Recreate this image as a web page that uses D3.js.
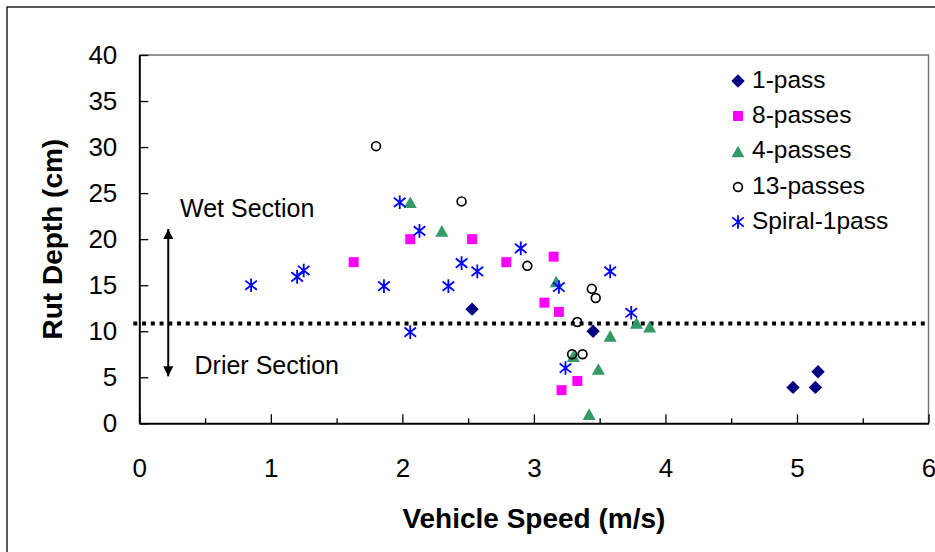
<!DOCTYPE html>
<html>
<head>
<meta charset="utf-8">
<script src="https://cdn.jsdelivr.net/npm/d3@7"></script>
<style>
  body { margin: 0; background: #fff; }
  svg { display: block; }
  text { font-family: "Liberation Sans", Arial, sans-serif; fill: #000; }
</style>
</head>
<body>
<svg id="chart" width="935" height="552"></svg>
<script>
// Rut depth (cm) against vehicle speed (m/s), one array per pass count
const onePass   = [[2.53, 12.4], [3.45, 10.0], [4.97, 3.9], [5.14, 3.9], [5.16, 5.6]];
const eightPass = [[1.63, 17.5], [2.06, 20.0], [2.53, 20.0], [2.79, 17.5], [3.15, 18.1],
                   [3.08, 13.1], [3.19, 12.1], [3.33, 4.6], [3.21, 3.6]];
const fourPass  = [[2.06, 24.0], [2.30, 20.9], [3.17, 15.4], [3.30, 7.3], [3.49, 5.9],
                   [3.42, 1.0], [3.58, 9.5], [3.78, 10.9], [3.88, 10.5]];
const thirteenPass = [[1.80, 30.1], [2.45, 24.1], [2.95, 17.1], [3.44, 14.6], [3.47, 13.6],
                      [3.33, 11.0], [3.29, 7.5], [3.37, 7.5]];
const spiralPass = [[0.85, 15.0], [1.20, 15.9], [1.25, 16.6], [1.86, 14.9], [1.98, 24.0],
                    [2.13, 20.9], [2.06, 9.9], [2.35, 14.9], [2.45, 17.4], [2.57, 16.5],
                    [2.90, 19.0], [3.19, 14.8], [3.58, 16.5], [3.74, 12.0], [3.24, 6.0]];

const seriesNames  = ["1-pass", "8-passes", "4-passes", "13-passes", "Spiral-1pass"];
const seriesColors = ["#000080", "#FF00FF", "#339966", "#000000", "#0000FF"];
const seriesShapes = ["diamond", "square", "triangle", "circle", "asterisk"];
const seriesData   = [onePass, eightPass, fourPass, thirteenPass, spiralPass];

const xTicks = [0, 1, 2, 3, 4, 5, 6];
const xMinorTicks = [0.5, 1.5, 2.5, 3.5, 4.5, 5.5];
const yTicks = [0, 5, 10, 15, 20, 25, 30, 35, 40];

// Boundary between the wet and drier sections
const sectionBoundary = 10.85;
const arrowSpan = { x: 0.22, y0: 5.1, y1: 21.1 };
const sectionLabels = [
  { text: "Wet Section", x: 0.31, y: 22.4 },
  { text: "Drier Section", x: 0.42, y: 5.35 }
];

const svg = d3.select("#chart");
const plot = { left: 139.3, top: 55, right: 928.5, bottom: 423.3 };

const x = d3.scaleLinear().domain([0, 6]).range([plot.left, plot.right]);
const y = d3.scaleLinear().domain([0, 40]).range([plot.bottom, plot.top]);

// Chart frame
svg.append("rect")
  .attr("x", 7).attr("y", 7).attr("width", 1200).attr("height", 1200)
  .attr("fill", "none").attr("stroke", "#000").attr("stroke-width", 1.3);

// Plot area border (top and right)
svg.append("path")
  .attr("d", `M${plot.left},${plot.top}H${plot.right}V${plot.bottom}`)
  .attr("fill", "none").attr("stroke", "#707070").attr("stroke-width", 1.4);

// Axes
const fmt = d3.format("d");
const yAxis = svg.append("g")
  .attr("transform", `translate(${plot.left},0)`)
  .call(d3.axisLeft(y).tickValues(yTicks).tickFormat(fmt)
    .tickSizeInner(-9).tickSizeOuter(0).tickPadding(22));
const xAxis = svg.append("g")
  .attr("transform", `translate(0,${plot.bottom})`)
  .call(d3.axisBottom(x).tickValues(xTicks).tickFormat(fmt)
    .tickSizeInner(-9).tickSizeOuter(0).tickPadding(35));
const xMinor = svg.append("g")
  .attr("transform", `translate(0,${plot.bottom})`)
  .call(d3.axisBottom(x).tickValues(xMinorTicks).tickSizeInner(-5).tickSizeOuter(0).tickFormat(""));
xMinor.select(".domain").remove();

[yAxis, xAxis, xMinor].forEach(g => {
  g.selectAll(".domain").attr("stroke", "#000").attr("stroke-width", 2);
  g.selectAll(".tick line").attr("stroke", "#000").attr("stroke-width", 1.3);
  g.selectAll(".tick text").attr("font-size", 26).attr("font-family", "Liberation Sans, Arial, sans-serif").attr("fill", "#000");
});

// Axis titles
svg.append("text")
  .attr("x", (plot.left + plot.right) / 2).attr("y", 528)
  .attr("text-anchor", "middle").attr("font-size", 28).attr("font-weight", "bold")
  .text("Vehicle Speed (m/s)");
svg.append("text")
  .attr("transform", `translate(62,${(plot.top + plot.bottom) / 2}) rotate(-90)`)
  .attr("text-anchor", "middle").attr("font-size", 28).attr("font-weight", "bold")
  .text("Rut Depth (cm)");

// Dotted section boundary
svg.append("line")
  .attr("x1", x(0) - 6).attr("x2", x(6))
  .attr("y1", y(sectionBoundary)).attr("y2", y(sectionBoundary))
  .attr("stroke", "#000").attr("stroke-width", 4).attr("stroke-dasharray", "4,4.75");

// Double-headed arrow spanning both sections
const defs = svg.append("defs");
defs.append("marker")
  .attr("id", "head").attr("viewBox", "0 0 10 10").attr("refX", 10).attr("refY", 5)
  .attr("markerWidth", 10).attr("markerHeight", 10).attr("markerUnits", "userSpaceOnUse")
  .attr("orient", "auto-start-reverse")
  .append("path").attr("d", "M0,0L10,5L0,10Z").attr("fill", "#000");
svg.append("line")
  .attr("x1", x(arrowSpan.x)).attr("x2", x(arrowSpan.x))
  .attr("y1", y(arrowSpan.y0)).attr("y2", y(arrowSpan.y1))
  .attr("stroke", "#000").attr("stroke-width", 2)
  .attr("marker-start", "url(#head)").attr("marker-end", "url(#head)");

svg.selectAll(".section-label").data(sectionLabels).enter().append("text")
  .attr("class", "section-label")
  .attr("x", d => x(d.x)).attr("y", d => y(d.y))
  .attr("font-size", 25).text(d => d.text);

// Marker shapes
function markerPath(shape) {
  switch (shape) {
    case "diamond":  return "M0,-6.7L6.7,0L0,6.7L-6.7,0Z";
    case "square":   return "M-5,-5H5V5H-5Z";
    case "triangle": return "M0,-5.8L6.5,5.8H-6.5Z";
    case "circle":   return "M4.4,0A4.4,4.4 0 1 1 -4.4,0A4.4,4.4 0 1 1 4.4,0Z";
    case "asterisk": return "M0,-6.8V6.8M-5.8,-4.6L5.8,4.6M-5.8,4.6L5.8,-4.6";
  }
}
function styleMarker(sel, i) {
  const shape = seriesShapes[i], color = seriesColors[i];
  sel.attr("d", markerPath(shape));
  if (shape === "circle" || shape === "asterisk") {
    sel.attr("fill", "none").attr("stroke", color).attr("stroke-width", shape === "circle" ? 1.7 : 1.8);
  } else {
    sel.attr("fill", color).attr("stroke", "none");
  }
}

seriesData.forEach((data, i) => {
  const g = svg.append("g").attr("class", "series");
  g.selectAll("path").data(data).enter().append("path")
    .attr("transform", d => `translate(${x(d[0])},${y(d[1])})`)
    .call(styleMarker, i);
});

// Legend
const legendRows = [79, 114, 149.5, 185, 220];
const legend = svg.append("g");
seriesNames.forEach((name, i) => {
  legend.append("path")
    .attr("transform", `translate(738,${legendRows[i] + 2})`)
    .call(styleMarker, i);
  legend.append("text")
    .attr("x", 752).attr("y", legendRows[i]).attr("dy", "0.36em")
    .attr("font-size", 24.5).text(name);
});
</script>
</body>
</html>
